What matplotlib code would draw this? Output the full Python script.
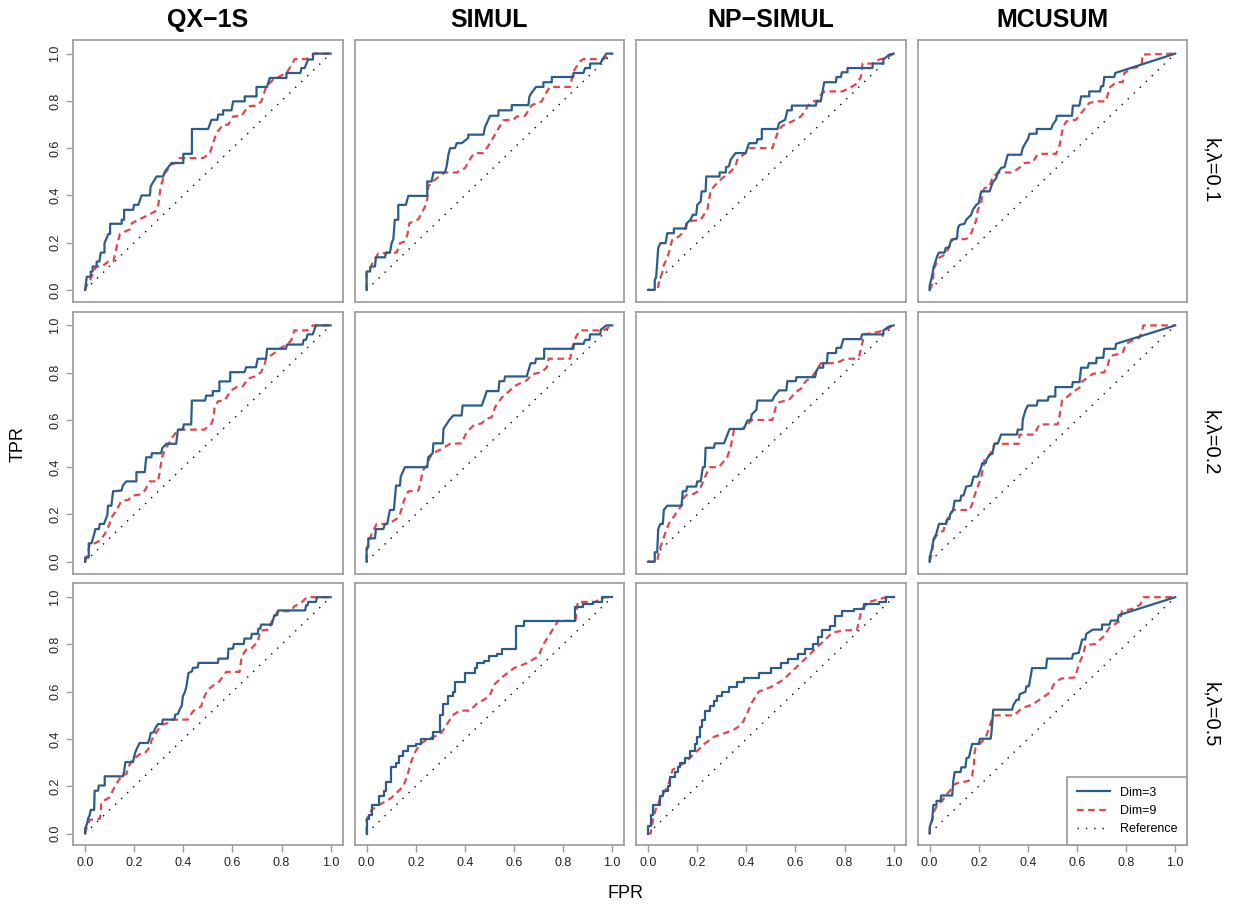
import matplotlib.pyplot as plt
import numpy as np
from matplotlib.lines import Line2D

plt.rcParams['font.family'] = ['Liberation Sans', 'DejaVu Sans']

# column / row labels
methods = ['QX\u22121S', 'SIMUL', 'NP\u2212SIMUL', 'MCUSUM']
settings = ['k,\u03bb=0.1', 'k,\u03bb=0.2', 'k,\u03bb=0.5']
ticks = [0.0, 0.2, 0.4, 0.6, 0.8, 1.0]

# ROC points (FPR, TPR)
# --- k,lambda = 0.1 ---
qx_01_d3 = [(0, 0), (.007, .056), (.023, .056), (.023, .078), (.031, .078), (.031, .099), (.047, .099), (.047, .12),
            (.058, .12), (.064, .158), (.079, .158), (.079, .198), (.095, .237), (.102, .237), (.102, .28), (.149, .28),
            (.149, .297), (.159, .297), (.159, .339), (.196, .339), (.199, .36), (.217, .36), (.23, .40), (.264, .40),
            (.267, .438), (.291, .48), (.318, .48), (.325, .501), (.352, .537), (.40, .537), (.40, .576), (.435, .576),
            (.435, .681), (.501, .681), (.515, .72), (.539, .72), (.542, .742), (.562, .742), (.562, .76), (.596, .76),
            (.603, .798), (.65, .798), (.65, .819), (.698, .819), (.698, .859), (.741, .859), (.752, .897), (.82, .897),
            (.82, .918), (.877, .918), (.881, .939), (.894, .939), (.908, .975), (.928, .975), (.928, 1), (1, 1)]
qx_01_d9 = [(0, 0), (.007, .021), (.02, .04), (.034, .078), (.047, .099), (.068, .099), (.095, .12), (.115, .12),
            (.129, .184), (.142, .237), (.183, .257), (.19, .282), (.224, .30), (.267, .322), (.285, .332), (.298, .36),
            (.308, .438), (.325, .494), (.352, .53), (.373, .54), (.379, .558), (.481, .558), (.508, .579), (.535, .664),
            (.562, .699), (.583, .699), (.603, .734), (.637, .737), (.664, .777), (.698, .78), (.718, .798), (.738, .862),
            (.766, .89), (.82, .918), (.833, .939), (.854, .977), (.901, .977), (.935, 1), (1, 1)]
simul_01_d3 = [(0, 0), (0, .078), (.014, .078), (.016, .099), (.034, .099), (.038, .138), (.075, .138), (.079, .158),
               (.095, .158), (.102, .198), (.109, .215), (.115, .297), (.129, .297), (.129, .36), (.16, .36), (.17, .398),
               (.247, .398), (.247, .459), (.265, .459), (.272, .497), (.319, .497), (.326, .523), (.333, .572), (.34, .60),
               (.36, .60), (.367, .621), (.387, .621), (.414, .643), (.414, .657), (.476, .657), (.482, .689), (.503, .737),
               (.537, .737), (.537, .76), (.591, .76), (.591, .782), (.659, .782), (.663, .819), (.673, .836), (.69, .859),
               (.72, .859), (.72, .879), (.754, .879), (.754, .901), (.842, .901), (.842, .918), (.883, .918), (.89, .939),
               (.91, .939), (.91, .958), (.951, .958), (.976, 1), (1, 1)]
simul_01_d9 = [(0, 0), (0, .071), (.011, .085), (.027, .12), (.048, .155), (.122, .158), (.136, .198), (.156, .205),
               (.166, .233), (.174, .282), (.211, .299), (.238, .353), (.247, .384), (.251, .438), (.265, .455), (.292, .477),
               (.319, .497), (.367, .497), (.401, .516), (.428, .565), (.442, .579), (.476, .579), (.503, .621), (.53, .671),
               (.557, .718), (.598, .72), (.611, .734), (.645, .737), (.673, .782), (.713, .798), (.734, .84), (.747, .859),
               (.829, .859), (.842, .925), (.87, .968), (.883, .977), (.965, .977), (1, 1)]
np_01_d3 = [(0, 0), (.027, 0), (.027, .04), (.033, .056), (.041, .177), (.05, .198), (.071, .198), (.078, .24), (.105, .24),
            (.105, .26), (.155, .26), (.155, .28), (.173, .297), (.182, .318), (.196, .318), (.20, .36), (.214, .374),
            (.218, .417), (.234, .417), (.237, .48), (.291, .48), (.291, .497), (.316, .497), (.318, .52), (.329, .523),
            (.336, .551), (.356, .579), (.397, .579), (.411, .621), (.441, .621), (.445, .638), (.463, .638), (.463, .681),
            (.527, .681), (.533, .706), (.558, .72), (.567, .76), (.585, .76), (.585, .78), (.683, .78), (.686, .798),
            (.703, .798), (.717, .879), (.765, .879), (.767, .901), (.785, .901), (.789, .921), (.812, .921), (.812, .939),
            (.914, .939), (.914, .958), (.958, .958), (.958, .975), (.982, .996), (1, 1)]
np_01_d9 = [(0, 0), (.037, 0), (.041, .014), (.046, .042), (.057, .071), (.064, .106), (.078, .134), (.087, .167),
            (.098, .212), (.125, .226), (.139, .24), (.152, .266), (.166, .29), (.214, .297), (.227, .318), (.241, .339),
            (.248, .381), (.254, .417), (.268, .438), (.302, .473), (.329, .494), (.356, .523), (.363, .551), (.404, .586),
            (.411, .60), (.506, .60), (.522, .65), (.533, .678), (.547, .695), (.601, .72), (.622, .734), (.642, .76),
            (.649, .777), (.669, .798), (.697, .802), (.703, .826), (.717, .84), (.792, .84), (.833, .862), (.853, .876),
            (.867, .904), (.873, .958), (.914, .958), (.941, .975), (.969, .982), (1, 1)]
mc_01_d3 = [(0, 0), (0, .017), (.011, .064), (.016, .096), (.024, .12), (.03, .141), (.038, .158), (.061, .158),
            (.065, .177), (.079, .181), (.088, .212), (.112, .219), (.115, .261), (.122, .275), (.142, .28), (.149, .297),
            (.169, .318), (.176, .339), (.19, .36), (.20, .367), (.21, .417), (.244, .417), (.257, .455), (.271, .473),
            (.278, .497), (.291, .516), (.305, .52), (.318, .572), (.373, .572), (.379, .60), (.39, .621), (.40, .638),
            (.407, .661), (.436, .661), (.436, .681), (.495, .681), (.501, .699), (.515, .72), (.518, .737), (.58, .737),
            (.583, .78), (.61, .78), (.617, .819), (.65, .819), (.65, .84), (.694, .84), (.698, .862), (.707, .862),
            (.711, .901), (.752, .901), (.756, .918), (1, 1)]
mc_01_d9 = [(0, 0), (.007, .014), (.014, .042), (.016, .085), (.027, .113), (.041, .138), (.061, .148), (.075, .172),
            (.088, .198), (.095, .215), (.149, .215), (.169, .24), (.183, .275), (.19, .297), (.196, .339), (.21, .367),
            (.214, .41), (.224, .431), (.244, .438), (.257, .48), (.282, .497), (.339, .497), (.373, .523), (.386, .537),
            (.42, .54), (.434, .565), (.447, .576), (.515, .576), (.528, .607), (.535, .643), (.542, .685), (.556, .713),
            (.596, .72), (.623, .756), (.65, .791), (.678, .798), (.718, .798), (.725, .826), (.732, .855), (.759, .879),
            (.786, .879), (.793, .918), (.827, .939), (.854, .944), (.864, .96), (.867, .996), (1, 1)]

# --- k,lambda = 0.2 ---
qx_02_d3 = [(0, 0), (0, .018), (.015, .018), (.015, .078), (.026, .078), (.037, .117), (.042, .138), (.056, .138),
            (.06, .16), (.077, .16), (.091, .199), (.093, .237), (.107, .237), (.114, .298), (.148, .301), (.154, .322),
            (.168, .34), (.209, .34), (.209, .379), (.243, .379), (.249, .442), (.27, .442), (.272, .459), (.31, .459),
            (.314, .48), (.331, .499), (.371, .499), (.378, .559), (.398, .559), (.402, .581), (.432, .581), (.435, .682),
            (.489, .682), (.493, .703), (.52, .703), (.52, .722), (.547, .722), (.547, .763), (.591, .763), (.591, .802),
            (.649, .802), (.656, .823), (.696, .823), (.703, .859), (.737, .859), (.741, .901), (.818, .901), (.822, .919),
            (.886, .919), (.89, .939), (.90, .939), (.906, .962), (.927, .962), (.94, 1), (1, 1)]
qx_02_d9 = [(0, 0), (.009, .025), (.019, .075), (.039, .078), (.06, .089), (.08, .117), (.10, .16), (.104, .181),
            (.127, .216), (.148, .258), (.175, .261), (.195, .28), (.222, .284), (.243, .301), (.263, .34), (.297, .34),
            (.304, .379), (.313, .442), (.324, .47), (.351, .52), (.378, .559), (.486, .559), (.514, .583), (.524, .612),
            (.527, .654), (.541, .679), (.568, .682), (.595, .725), (.622, .742), (.642, .742), (.663, .774), (.69, .784),
            (.717, .802), (.73, .831), (.737, .859), (.771, .883), (.798, .905), (.825, .922), (.839, .936), (.852, .979),
            (.906, .979), (.927, 1), (1, 1)]
simul_02_d3 = [(0, 0), (0, .058), (.007, .061), (.007, .099), (.034, .099), (.038, .138), (.068, .138), (.075, .16),
               (.084, .16), (.095, .219), (.111, .219), (.12, .322), (.136, .322), (.139, .36), (.156, .40), (.247, .40),
               (.251, .442), (.269, .459), (.272, .501), (.31, .501), (.313, .562), (.337, .60), (.353, .619), (.387, .619),
               (.391, .661), (.469, .661), (.482, .699), (.489, .722), (.537, .722), (.541, .764), (.56, .764), (.564, .784),
               (.652, .784), (.668, .84), (.686, .84), (.69, .859), (.723, .859), (.723, .901), (.842, .901), (.845, .922),
               (.883, .922), (.89, .939), (.908, .939), (.91, .962), (.951, .962), (.954, .982), (.976, 1), (1, 1)]
simul_02_d9 = [(0, 0), (0, .047), (.007, .075), (.02, .117), (.041, .16), (.088, .16), (.122, .181), (.136, .202),
               (.152, .258), (.17, .298), (.211, .301), (.22, .336), (.228, .385), (.245, .407), (.258, .442), (.272, .459),
               (.313, .482), (.34, .499), (.387, .501), (.401, .534), (.414, .555), (.435, .576), (.469, .586), (.489, .605),
               (.51, .612), (.523, .654), (.55, .694), (.584, .725), (.598, .742), (.652, .767), (.673, .793), (.713, .802),
               (.734, .823), (.741, .859), (.829, .859), (.836, .901), (.853, .953), (.87, .979), (.965, .979), (1, 1)]
np_02_d3 = [(0, 0), (.027, 0), (.027, .04), (.037, .04), (.041, .138), (.05, .16), (.06, .16), (.064, .219), (.078, .237),
            (.136, .237), (.141, .298), (.155, .298), (.159, .318), (.196, .318), (.20, .34), (.214, .34), (.223, .40),
            (.231, .40), (.234, .482), (.268, .482), (.272, .501), (.309, .501), (.332, .562), (.39, .562), (.404, .597),
            (.418, .60), (.422, .623), (.441, .643), (.445, .682), (.506, .682), (.513, .699), (.533, .725), (.563, .725),
            (.567, .764), (.601, .764), (.604, .781), (.68, .781), (.686, .809), (.694, .821), (.713, .821), (.713, .84),
            (.728, .84), (.731, .883), (.765, .883), (.767, .905), (.785, .905), (.795, .942), (.867, .942), (.871, .962),
            (.958, .962), (.958, .979), (.982, .996), (1, 1)]
np_02_d9 = [(0, 0), (.037, 0), (.041, .025), (.05, .061), (.071, .124), (.084, .16), (.112, .202), (.139, .242),
            (.146, .273), (.159, .284), (.186, .287), (.207, .301), (.22, .329), (.231, .357), (.25, .40), (.288, .40),
            (.322, .442), (.336, .484), (.343, .52), (.35, .558), (.384, .562), (.404, .583), (.424, .60), (.506, .60),
            (.513, .626), (.52, .654), (.533, .675), (.574, .685), (.601, .718), (.622, .732), (.642, .764), (.669, .784),
            (.69, .816), (.703, .84), (.765, .84), (.805, .859), (.844, .859), (.86, .873), (.873, .929), (.88, .962),
            (.935, .972), (.969, .982), (1, 1)]
mc_02_d3 = [(0, 0), (0, .018), (.011, .061), (.016, .096), (.027, .117), (.038, .16), (.068, .16), (.07, .177),
            (.081, .181), (.084, .202), (.095, .216), (.102, .258), (.125, .258), (.129, .28), (.138, .28), (.149, .318),
            (.169, .322), (.179, .36), (.196, .36), (.21, .40), (.214, .417), (.228, .417), (.233, .435), (.244, .453),
            (.255, .456), (.264, .499), (.278, .501), (.291, .538), (.355, .538), (.359, .559), (.377, .559), (.379, .60),
            (.39, .64), (.40, .661), (.436, .661), (.44, .682), (.481, .682), (.485, .699), (.512, .699), (.512, .739),
            (.58, .739), (.583, .76), (.61, .76), (.617, .821), (.644, .821), (.648, .84), (.678, .84), (.68, .863),
            (.707, .863), (.711, .901), (.756, .901), (.759, .922), (1, 1)]
mc_02_d9 = [(0, 0), (.007, .025), (.011, .054), (.016, .089), (.027, .11), (.041, .124), (.057, .131), (.061, .153),
            (.081, .199), (.095, .219), (.163, .219), (.173, .244), (.183, .28), (.19, .301), (.20, .329), (.21, .36),
            (.22, .407), (.224, .435), (.237, .442), (.251, .463), (.264, .499), (.363, .499), (.366, .538), (.427, .538),
            (.434, .555), (.447, .581), (.522, .581), (.528, .612), (.535, .654), (.539, .682), (.556, .694), (.583, .718),
            (.61, .736), (.617, .76), (.637, .774), (.664, .795), (.711, .802), (.725, .831), (.732, .859), (.745, .873),
            (.786, .883), (.799, .922), (.827, .936), (.854, .948), (.864, .972), (.87, 1), (1, 1)]

# --- k,lambda = 0.5 ---
qx_05_d3 = [(0, 0), (0, .02), (.009, .044), (.012, .062), (.019, .079), (.023, .10), (.037, .10), (.039, .181),
            (.053, .181), (.056, .203), (.08, .203), (.08, .242), (.154, .242), (.159, .263), (.164, .302), (.195, .302),
            (.199, .322), (.205, .345), (.213, .364), (.222, .383), (.256, .383), (.263, .404), (.267, .425), (.28, .429),
            (.286, .446), (.297, .463), (.313, .463), (.317, .482), (.364, .482), (.367, .503), (.378, .506), (.385, .524),
            (.394, .542), (.398, .581), (.405, .595), (.412, .619), (.421, .679), (.435, .686), (.439, .701), (.459, .703),
            (.462, .722), (.541, .722), (.543, .74), (.581, .74), (.584, .782), (.602, .782), (.606, .802), (.646, .802),
            (.649, .825), (.676, .825), (.679, .845), (.703, .845), (.706, .867), (.714, .867), (.717, .884), (.76, .884),
            (.771, .924), (.782, .924), (.787, .944), (.896, .944), (.90, .966), (.906, .966), (.909, .98), (.94, .98),
            (.944, 1), (1, 1)]
qx_05_d9 = [(0, 0), (.005, .02), (.019, .058), (.06, .062), (.064, .093), (.066, .131), (.083, .143), (.10, .153),
            (.121, .199), (.141, .232), (.154, .249), (.168, .251), (.175, .277), (.188, .305), (.222, .336), (.243, .34),
            (.267, .369), (.27, .393), (.297, .439), (.313, .46), (.337, .468), (.351, .482), (.419, .482), (.439, .517),
            (.473, .538), (.48, .566), (.50, .609), (.527, .63), (.547, .644), (.575, .684), (.629, .684), (.638, .75),
            (.656, .778), (.676, .782), (.703, .811), (.71, .842), (.714, .859), (.751, .863), (.757, .891), (.785, .941),
            (.839, .941), (.852, .962), (.879, .976), (.904, 1), (1, 1)]
simul_05_d3 = [(0, 0), (0, .06), (.01, .06), (.01, .08), (.02, .08), (.02, .12), (.05, .12), (.05, .16), (.07, .16),
               (.07, .18), (.08, .18), (.08, .22), (.10, .22), (.10, .28), (.12, .28), (.12, .30), (.13, .30), (.13, .33),
               (.15, .33), (.15, .35), (.17, .35), (.17, .37), (.20, .37), (.20, .38), (.22, .38), (.22, .40), (.27, .40),
               (.27, .43), (.30, .43), (.30, .50), (.31, .50), (.31, .55), (.33, .55), (.33, .58), (.35, .58), (.35, .60),
               (.36, .60), (.36, .64), (.40, .64), (.40, .68), (.44, .68), (.44, .70), (.45, .70), (.45, .72), (.48, .72),
               (.48, .73), (.50, .73), (.50, .75), (.53, .75), (.53, .76), (.55, .76), (.55, .78), (.61, .78), (.61, .88),
               (.64, .88), (.64, .90), (.85, .90), (.85, .96), (.88, .96), (.88, .97), (.92, .97), (.92, .98), (.96, .98),
               (.96, 1), (1, 1)]
simul_05_d9 = [(0, 0), (0, .06), (.02, .10), (.05, .12), (.10, .15), (.13, .18), (.15, .20), (.17, .26), (.18, .30),
               (.20, .35), (.22, .38), (.25, .40), (.30, .42), (.32, .45), (.35, .50), (.38, .52), (.42, .52), (.45, .55),
               (.50, .58), (.52, .63), (.55, .66), (.60, .70), (.65, .72), (.70, .75), (.72, .80), (.75, .85), (.78, .90),
               (.85, .90), (.86, .98), (.93, .98), (.97, 1), (1, 1)]
np_05_d3 = [(0, 0), (0, .03), (.01, .03), (.01, .08), (.02, .08), (.02, .12), (.05, .12), (.05, .16), (.06, .16),
            (.06, .18), (.08, .18), (.08, .20), (.09, .20), (.09, .24), (.11, .24), (.11, .26), (.12, .26), (.12, .28),
            (.13, .28), (.13, .30), (.15, .30), (.15, .32), (.17, .32), (.17, .35), (.19, .35), (.19, .38), (.20, .38),
            (.20, .41), (.21, .41), (.21, .45), (.22, .45), (.22, .48), (.23, .48), (.23, .52), (.25, .52), (.25, .54),
            (.27, .54), (.27, .56), (.28, .56), (.28, .58), (.30, .58), (.30, .60), (.33, .60), (.33, .62), (.36, .62),
            (.36, .64), (.39, .64), (.39, .66), (.45, .66), (.45, .68), (.50, .68), (.50, .70), (.54, .70), (.54, .72),
            (.57, .72), (.57, .74), (.61, .74), (.61, .76), (.64, .76), (.64, .78), (.67, .78), (.67, .80), (.69, .80),
            (.69, .83), (.71, .83), (.71, .86), (.74, .86), (.74, .88), (.76, .88), (.76, .92), (.79, .92), (.79, .94),
            (.84, .94), (.84, .95), (.88, .95), (.88, .97), (.94, .97), (.94, .98), (.97, .98), (.97, 1), (1, 1)]
np_05_d9 = [(0, 0), (.01, 0), (.02, .06), (.03, .10), (.05, .15), (.08, .20), (.10, .27), (.15, .30), (.20, .35),
            (.23, .38), (.27, .41), (.30, .42), (.35, .44), (.38, .46), (.40, .50), (.42, .55), (.45, .60), (.50, .62),
            (.55, .65), (.60, .70), (.62, .72), (.65, .75), (.70, .80), (.75, .85), (.80, .86), (.85, .86), (.87, .95),
            (.90, .98), (.97, 1), (1, 1)]
mc_05_d3 = [(0, 0), (.001, .03), (.011, .062), (.015, .121), (.028, .121), (.028, .138), (.045, .138), (.047, .161),
            (.092, .161), (.096, .22), (.102, .26), (.126, .26), (.129, .28), (.146, .28), (.15, .319), (.16, .322),
            (.173, .379), (.20, .379), (.205, .401), (.248, .401), (.251, .418), (.255, .468), (.259, .524), (.336, .524),
            (.34, .542), (.354, .566), (.363, .566), (.367, .59), (.39, .599), (.394, .623), (.404, .623), (.408, .644),
            (.417, .70), (.474, .70), (.478, .74), (.58, .74), (.584, .76), (.607, .764), (.621, .821), (.634, .821),
            (.638, .845), (.665, .863), (.702, .863), (.702, .884), (.733, .884), (.738, .901), (.766, .901), (.77, .924),
            (1, 1)]
mc_05_d9 = [(0, 0), (.001, .023), (.011, .058), (.015, .086), (.031, .121), (.051, .138), (.065, .161), (.083, .181),
            (.092, .203), (.112, .213), (.16, .223), (.173, .242), (.18, .291), (.183, .34), (.187, .362), (.228, .404),
            (.237, .432), (.255, .489), (.268, .50), (.343, .50), (.377, .531), (.417, .545), (.458, .573), (.492, .599),
            (.505, .63), (.533, .655), (.593, .661), (.607, .715), (.625, .757), (.634, .797), (.675, .802), (.709, .835),
            (.736, .877), (.756, .887), (.776, .901), (.783, .941), (.831, .952), (.858, .969), (.871, 1), (1, 1)]

grid = [
    [(qx_01_d3, qx_01_d9), (simul_01_d3, simul_01_d9), (np_01_d3, np_01_d9), (mc_01_d3, mc_01_d9)],
    [(qx_02_d3, qx_02_d9), (simul_02_d3, simul_02_d9), (np_02_d3, np_02_d9), (mc_02_d3, mc_02_d9)],
    [(qx_05_d3, qx_05_d9), (simul_05_d3, simul_05_d9), (np_05_d3, np_05_d9), (mc_05_d3, mc_05_d9)],
]

blue = '#2c5d8a'
red = '#e0474c'
edge = '#9a9a9a'

fig, axes = plt.subplots(3, 4, figsize=(12.38, 9.07), dpi=100)
plt.subplots_adjust(left=0.059, right=0.959, top=0.956, bottom=0.068, wspace=0.044, hspace=0.038)

for r in range(3):
    for c in range(4):
        ax = axes[r, c]
        d3 = np.array(grid[r][c][0])
        d9 = np.array(grid[r][c][1])
        ax.plot([0, 1], [0, 1], color='black', linestyle=(0, (1, 5)), linewidth=1.0)
        ax.plot(d9[:, 0], d9[:, 1], color=red, linestyle=(0, (3, 2)), linewidth=1.6)
        ax.plot(d3[:, 0], d3[:, 1], color=blue, linewidth=1.6)
        ax.set_xlim(-0.049, 1.049)
        ax.set_ylim(-0.05, 1.058)
        for s in ax.spines.values():
            s.set_color(edge)
            s.set_linewidth(1.2)
        ax.set_xticks(ticks)
        ax.set_yticks(ticks)
        ax.tick_params(colors=edge, labelcolor='#222222', length=5, width=1.0, labelsize=9)
        if c == 0:
            ax.set_yticklabels(['%.1f' % t for t in ticks], rotation=90, va='center')
        else:
            ax.tick_params(axis='y', left=False, labelleft=False)
        if r == 2:
            ax.set_xticklabels(['%.1f' % t for t in ticks])
        else:
            ax.tick_params(axis='x', bottom=False, labelbottom=False)
        if r == 0:
            ax.set_title(methods[c], fontsize=18, fontweight='bold', pad=9)
        if c == 3:
            ax.text(1.085, 0.5, settings[r], transform=ax.transAxes, rotation=-90,
                    ha='center', va='center', fontsize=14.5)

handles = [Line2D([], [], color=blue, linewidth=1.6),
           Line2D([], [], color=red, linestyle=(0, (3, 2)), linewidth=1.6),
           Line2D([], [], color='black', linestyle=(0, (1, 5)), linewidth=1.0)]
leg = axes[2, 3].legend(handles, ['Dim=3', 'Dim=9', 'Reference'], loc='lower right',
                        borderaxespad=0, fontsize=9, fancybox=False, framealpha=1,
                        handlelength=2.6, borderpad=0.8)
leg.get_frame().set_edgecolor(edge)
leg.get_frame().set_linewidth(1.2)

fig.text(0.015, 0.51, 'TPR', rotation=90, ha='center', va='center', fontsize=13)
fig.text(0.505, 0.015, 'FPR', ha='center', va='center', fontsize=13)

plt.savefig('out.png', dpi=100)
